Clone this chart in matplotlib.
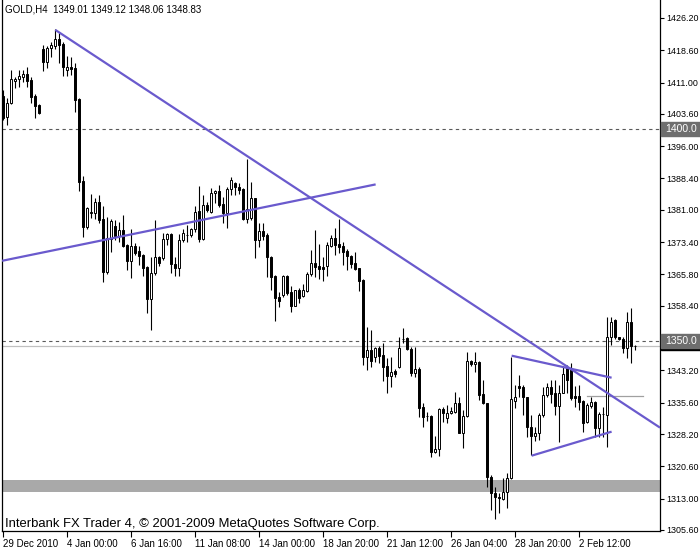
import numpy as np
import matplotlib.pyplot as plt
import matplotlib.transforms as mtransforms
from matplotlib.patches import Rectangle

plt.rcParams['font.family'] = ['Liberation Sans', 'DejaVu Sans']

# GOLD H4 行情 (open / high / low / close)
open_ = [1407.83, 1402.88, 1406.18, 1411.36, 1411.83, 1412.30, 1413.01, 1411.59, 1407.83, 1405.71,
         1418.83, 1415.91, 1419.06, 1419.60, 1421.18, 1420.07, 1413.95, 1414.59, 1414.35, 1407.05,
         1387.80, 1376.90, 1380.19, 1380.19, 1382.93, 1378.78, 1366.29, 1374.07, 1377.20, 1374.85,
         1376.26, 1372.73, 1369.03, 1372.49, 1371.31, 1370.37, 1367.61, 1359.93, 1366.06, 1369.97,
         1369.59, 1374.07, 1375.32, 1368.25, 1367.24, 1373.90, 1375.01, 1375.01, 1376.42, 1380.73,
         1374.21, 1382.15, 1380.57, 1384.90, 1385.45, 1382.38, 1380.33, 1385.85, 1387.26, 1386.46,
         1385.92, 1378.85, 1379.02, 1383.73, 1373.90, 1376.02, 1375.08, 1369.83, 1365.42, 1360.40,
         1360.95, 1365.42, 1361.58, 1358.43, 1362.12, 1360.78, 1361.96, 1365.89, 1368.56, 1367.78,
         1367.61, 1367.85, 1372.56, 1374.30, 1372.96, 1372.49, 1371.38, 1370.13, 1368.56, 1367.24,
         1364.48, 1346.41, 1347.99, 1346.27, 1348.39, 1346.81, 1344.22, 1341.94, 1343.04, 1343.92,
         1350.58, 1350.75, 1348.16, 1342.64, 1343.44, 1334.49, 1332.44, 1332.44, 1324.03, 1324.60,
         1334.02, 1332.04, 1333.08, 1333.46, 1335.43, 1328.51, 1332.44, 1345.47, 1344.62, 1345.23,
         1337.63, 1335.43, 1318.00, 1314.37, 1313.29, 1312.82, 1314.61, 1317.77, 1336.05, 1339.51,
         1339.20, 1336.85, 1329.78, 1327.73, 1328.37, 1332.68, 1337.39, 1339.20, 1337.79, 1334.80,
         1337.93, 1343.68, 1343.28, 1337.15, 1337.15, 1335.98, 1331.10, 1334.80, 1335.81, 1329.55,
         1332.80, 1332.68, 1350.98, 1355.06, 1350.98, 1350.51, 1348.39, 1354.52, 1349.01]
high = [1409.24, 1407.35, 1413.95, 1412.30, 1413.95, 1413.95, 1414.66, 1412.30, 1408.30, 1405.94,
        1419.84, 1419.60, 1420.62, 1423.54, 1422.67, 1420.62, 1417.25, 1416.94, 1415.67, 1407.30,
        1388.98, 1381.75, 1384.74, 1383.80, 1384.50, 1381.91, 1379.39, 1378.78, 1378.61, 1378.14,
        1379.79, 1372.96, 1376.42, 1373.13, 1372.49, 1370.50, 1367.80, 1369.97, 1378.61, 1370.10,
        1375.62, 1375.50, 1375.50, 1369.97, 1375.32, 1376.42, 1377.44, 1376.66, 1381.91, 1386.62,
        1384.50, 1382.93, 1386.08, 1385.68, 1386.86, 1384.10, 1386.46, 1388.81, 1387.64, 1387.40,
        1386.10, 1392.98, 1387.64, 1383.90, 1377.84, 1377.84, 1375.48, 1370.13, 1365.60, 1361.72,
        1365.66, 1365.66, 1363.07, 1362.20, 1362.52, 1363.54, 1366.44, 1371.55, 1376.26, 1372.96,
        1369.97, 1373.50, 1375.08, 1376.66, 1378.85, 1373.50, 1371.71, 1370.30, 1371.15, 1367.40,
        1364.72, 1353.48, 1352.70, 1348.77, 1348.93, 1349.71, 1346.03, 1346.41, 1343.44, 1351.12,
        1353.10, 1351.12, 1348.77, 1348.77, 1343.92, 1335.43, 1333.46, 1332.60, 1327.73, 1334.26,
        1334.49, 1335.03, 1334.63, 1338.17, 1336.85, 1333.86, 1347.45, 1345.63, 1347.59, 1345.40,
        1340.92, 1335.60, 1318.54, 1315.79, 1314.23, 1317.77, 1319.09, 1346.41, 1339.75, 1342.10,
        1339.75, 1337.00, 1332.68, 1329.92, 1333.08, 1339.35, 1340.15, 1340.92, 1340.92, 1339.75,
        1344.06, 1344.46, 1344.86, 1339.51, 1339.75, 1336.10, 1335.43, 1336.99, 1336.00, 1333.46,
        1334.56, 1355.69, 1355.69, 1355.29, 1351.05, 1350.98, 1357.01, 1357.81, 1349.12]
low = [1402.17, 1400.99, 1405.90, 1409.71, 1409.95, 1411.12, 1409.95, 1406.18, 1402.64, 1403.59,
       1413.79, 1414.35, 1417.08, 1418.83, 1415.67, 1412.54, 1412.54, 1412.77, 1404.13, 1385.52,
       1374.68, 1376.42, 1379.02, 1378.85, 1377.84, 1364.08, 1365.89, 1371.15, 1373.90, 1373.43,
       1372.32, 1366.84, 1364.88, 1370.37, 1368.01, 1365.42, 1356.78, 1352.70, 1365.66, 1367.78,
       1369.19, 1372.73, 1366.06, 1365.42, 1365.42, 1373.50, 1373.50, 1374.68, 1375.86, 1373.50,
       1373.90, 1380.57, 1380.33, 1382.55, 1381.75, 1377.84, 1376.66, 1384.50, 1384.50, 1384.74,
       1378.70, 1377.84, 1378.61, 1369.59, 1372.32, 1373.90, 1365.26, 1362.12, 1354.89, 1358.05,
       1360.55, 1360.95, 1357.01, 1358.30, 1359.13, 1360.55, 1361.72, 1365.42, 1365.26, 1364.65,
       1364.32, 1365.42, 1372.32, 1370.37, 1370.77, 1368.01, 1366.84, 1367.24, 1366.84, 1361.96,
       1344.46, 1343.28, 1344.06, 1345.23, 1344.86, 1340.76, 1337.79, 1339.35, 1341.70, 1343.68,
       1349.57, 1347.99, 1341.87, 1341.70, 1332.28, 1329.92, 1331.27, 1322.71, 1323.80, 1323.02,
       1331.10, 1330.86, 1332.84, 1333.08, 1328.37, 1324.83, 1332.28, 1344.29, 1342.88, 1336.21,
       1335.20, 1315.79, 1310.30, 1308.11, 1309.52, 1312.65, 1310.70, 1317.60, 1334.26, 1336.85,
       1332.68, 1327.57, 1323.26, 1326.62, 1326.79, 1332.28, 1336.99, 1335.43, 1332.68, 1326.39,
       1337.79, 1337.79, 1336.21, 1334.63, 1333.86, 1328.75, 1330.72, 1334.26, 1327.57, 1327.57,
       1327.50, 1325.21, 1349.17, 1350.58, 1350.35, 1347.35, 1346.03, 1345.00, 1348.06]
close = [1402.64, 1406.18, 1411.83, 1411.83, 1412.54, 1413.01, 1411.36, 1407.59, 1405.47, 1403.82,
         1415.91, 1419.06, 1419.84, 1421.18, 1419.84, 1414.73, 1414.59, 1414.12, 1406.88, 1387.64,
         1377.04, 1381.37, 1380.57, 1382.93, 1378.61, 1366.44, 1374.30, 1378.38, 1374.85, 1376.26,
         1372.49, 1369.03, 1372.49, 1370.77, 1370.13, 1367.38, 1359.93, 1366.06, 1369.83, 1368.56,
         1374.07, 1375.32, 1368.18, 1367.24, 1373.90, 1375.62, 1375.08, 1376.42, 1380.57, 1374.07,
         1382.15, 1380.97, 1384.90, 1385.45, 1382.15, 1380.33, 1385.85, 1388.04, 1386.32, 1385.68,
         1378.85, 1381.13, 1383.73, 1373.90, 1376.09, 1374.92, 1369.83, 1365.26, 1360.31, 1359.60,
         1365.42, 1361.49, 1358.43, 1362.12, 1360.31, 1362.12, 1365.89, 1368.56, 1367.61, 1367.07,
         1367.07, 1372.73, 1374.30, 1372.73, 1372.32, 1371.01, 1370.13, 1368.25, 1367.07, 1364.32,
         1346.41, 1347.99, 1345.47, 1348.39, 1346.58, 1344.06, 1341.94, 1342.88, 1342.27, 1348.53,
         1350.50, 1348.16, 1342.64, 1343.44, 1334.40, 1332.28, 1332.40, 1324.03, 1324.60, 1334.02,
         1333.22, 1333.08, 1333.62, 1335.43, 1328.51, 1332.44, 1345.47, 1344.62, 1345.23, 1337.39,
         1335.43, 1318.14, 1314.23, 1313.29, 1313.05, 1314.61, 1317.77, 1336.38, 1336.85, 1339.11,
         1336.85, 1329.78, 1327.73, 1328.37, 1332.68, 1337.39, 1339.20, 1337.63, 1334.80, 1337.93,
         1342.34, 1340.92, 1336.61, 1336.61, 1335.81, 1330.86, 1335.03, 1335.67, 1329.55, 1332.91,
         1332.90, 1350.98, 1354.66, 1350.98, 1350.51, 1348.39, 1354.52, 1348.93, 1348.83]

# 時間軸標籤 (每 16 根 K 線一個)
date_labels = ['29 Dec 2010', '4 Jan 00:00', '6 Jan 16:00', '11 Jan 08:00', '14 Jan 00:00',
               '18 Jan 20:00', '21 Jan 12:00', '26 Jan 04:00', '28 Jan 20:00', '2 Feb 12:00']
date_bars = [0, 16, 32, 48, 64, 80, 96, 112, 128, 144]
price_ticks = [1426.20, 1418.60, 1411.00, 1403.60, 1396.00, 1388.40, 1381.00, 1373.40,
               1365.80, 1358.40, 1343.20, 1335.60, 1328.20, 1320.60, 1313.00, 1305.60]

# 圖上物件: 趨勢線 (bar, price)
trend_down = ([13, 164.2], [1423.4, 1329.7])
trend_up = ([-0.3, 93.1], [1369.0, 1387.0])
tri_top = ([127.1, 152.1], [1346.65, 1341.46])
tri_bottom = ([132.1, 152.1], [1323.09, 1328.75])
hline_levels = [1400.0, 1350.0]
support_zone = (1314.6, 1317.4)
short_level_bars = [145.9, 159.9]
short_level = 1337.08
bid = 1348.83
header = 'GOLD,H4  1349.01 1349.12 1348.06 1348.83'
footer = 'Interbank FX Trader 4, \u00a9 2001-2009 MetaQuotes Software Corp.'

o = np.array(open_)
h = np.array(high)
l = np.array(low)
c = np.array(close)
x = np.arange(len(o))

fig = plt.figure(figsize=(7, 5.5), dpi=100)
ax = fig.add_axes([2 / 700, 19 / 550, 658 / 700, 531 / 550])
ax.set_xlim(-0.325, 164.2)
ax.set_ylim(1305.35, 1430.44)

# 背景物件
ax.axhspan(support_zone[0], support_zone[1], color='#a9a9a9', lw=0, zorder=0)
for lv in hline_levels:
    ax.axhline(lv, color='#5a5a5a', ls=(0, (3, 3)), lw=0.8, zorder=1)
ax.axhline(bid, color='#c0c0c0', lw=0.9, zorder=1)
ax.plot(short_level_bars, [short_level, short_level], color='#a0a0a0', lw=0.9, zorder=1)

# K 線
up = c >= o
ax.vlines(x, l, h, color='black', lw=0.8, zorder=2)
ax.bar(x, np.abs(c - o), bottom=np.minimum(o, c), width=0.55,
       color=np.where(up, 'white', 'black'), edgecolor='black', linewidth=0.7, zorder=3)

# 趨勢線
for xs, ys in [trend_down, trend_up, tri_top, tri_bottom]:
    ax.plot(xs, ys, color='#6a5acd', lw=1.6, zorder=4, solid_capstyle='butt')

# 座標軸
ax.yaxis.tick_right()
ax.set_yticks(price_ticks)
ax.set_yticklabels([f'{p:.2f}' for p in price_ticks])
ax.tick_params(axis='y', length=3, pad=1.5, labelsize=6.4, width=0.8)
ax.set_xticks(date_bars)
ax.set_xticklabels(date_labels, ha='left')
ax.tick_params(axis='x', length=4, pad=2, labelsize=7, width=0.8)
ax.spines['top'].set_visible(False)
for s in ['left', 'right', 'bottom']:
    ax.spines[s].set_linewidth(0.9)

# 價格標籤
tr = mtransforms.blended_transform_factory(ax.transAxes, ax.transData)
ax.add_patch(Rectangle((1.002, bid - 0.9), 0.07, 2.5, transform=tr, color='black',
                       clip_on=False, zorder=5))
for lv in hline_levels:
    ax.add_patch(Rectangle((1.002, lv - 1.65), 0.07, 3.3, transform=tr, color='#6e6e6e',
                           clip_on=False, zorder=6))
    ax.text(1.008, lv, f'{lv:.1f}', transform=tr, color='white', fontsize=7.5,
            va='center', ha='left', zorder=7)

fig.text(5 / 700, 1 - 10 / 550, header, fontsize=7, va='center', ha='left')
fig.text(5 / 700, 1 - 524 / 550, footer, fontsize=9.4, va='center', ha='left')

plt.savefig('out.png', dpi=100)
